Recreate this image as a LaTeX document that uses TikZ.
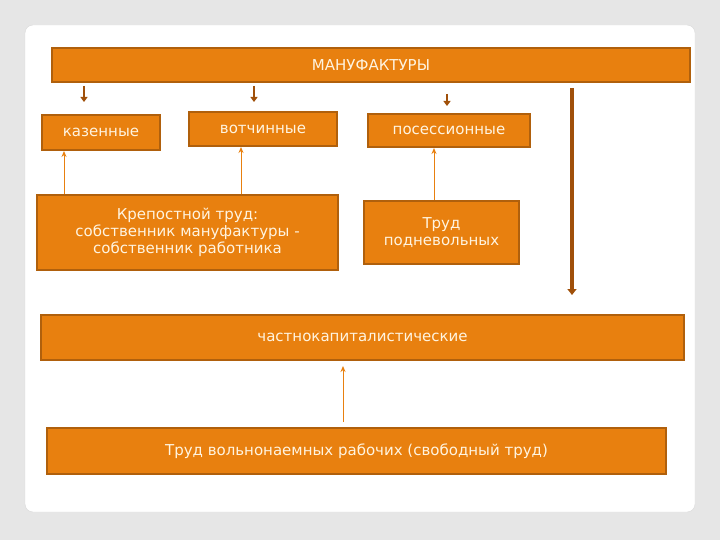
\documentclass[tikz,border=0pt]{standalone}
\usepackage{fontspec}
\setmainfont{DejaVu Sans}
\usetikzlibrary{arrows.meta}
\definecolor{bg}{HTML}{E6E6E6}
\definecolor{orf}{HTML}{E8800F}
\definecolor{orb}{HTML}{B0600C}
\definecolor{dk}{HTML}{A0500A}
\definecolor{tx}{HTML}{FFF4E0}
\begin{document}
\begin{tikzpicture}[x=1pt,y=-1pt,
  box/.style={draw=orb,line width=2pt,fill=orf,text=tx,font=\fontsize{15}{17}\selectfont,align=center,inner sep=0pt},
  dn/.style={draw=dk,line width=2.5pt,-{Triangle[width=7pt,length=5pt]}},
  up/.style={draw=orf,line width=1pt,-{Stealth[width=5pt,length=6pt]}}]
\fill[bg] (0,0) rectangle (720,540);
\fill[white,rounded corners=8pt,draw=gray!30] (25,25) rectangle (695,512);
\node[box,minimum width=638pt,minimum height=34pt] (m) at (371,65) {МАНУФАКТУРЫ};
\node[box,minimum width=118pt,minimum height=35pt] (k) at (101,132.5) {казенные};
\node[box,minimum width=148pt,minimum height=34pt] (v) at (263,129) {вотчинные};
\node[box,minimum width=162pt,minimum height=33pt] (p) at (449,130.5) {посессионные};
\node[box,minimum width=301pt,minimum height=75pt] (kr) at (187.5,232.5) {Крепостной труд:\\собственник мануфактуры -\\собственник работника};
\node[box,minimum width=155pt,minimum height=63pt] (t) at (441.5,232.5) {Труд\\подневольных};
\node[box,minimum width=643pt,minimum height=45pt] (c) at (362.5,337.5) {частнокапиталистические};
\node[box,minimum width=619pt,minimum height=46pt] (f) at (356.5,451) {Труд вольнонаемных рабочих (свободный труд)};
\coordinate (a1) at (84,86); \coordinate (a1e) at (84,102);
\coordinate (a2) at (254,86); \coordinate (a2e) at (254,102);
\coordinate (a3) at (447,94); \coordinate (a3e) at (447,106);
\coordinate (b1) at (572,88); \coordinate (b1e) at (572,295);
\coordinate (u1) at (343,422); \coordinate (u1e) at (343,366);
\draw[dn] (a1) -- (a1e);
\draw[dn] (a2) -- (a2e);
\draw[dn] (a3) -- (a3e);
\draw[draw=dk,line width=3.5pt,-{Triangle[width=9pt,length=6pt]}] (b1) -- (b1e);
\draw[up] (kr.north -| 64,0) -- (k.south -| 64,0);
\draw[up] (kr.north -| 241,0) -- (v.south -| 241,0);
\draw[up] (t.north -| 434,0) -- (p.south -| 434,0);
\draw[up] (u1) -- (u1e);
\end{tikzpicture}
\end{document}
